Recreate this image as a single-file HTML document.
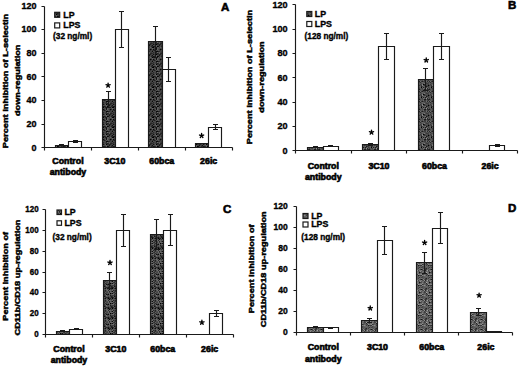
<!DOCTYPE html>
<html><head><meta charset="utf-8"><style>
html,body{margin:0;padding:0;background:#fff;}
body{width:520px;height:367px;overflow:hidden;}
svg{display:block;}
.t{font-family:"Liberation Sans", sans-serif;font-weight:bold;font-size:8.3px;fill:#000;stroke:#000;stroke-width:0.6px;}
.L{font-size:11.5px;}
.Y{font-size:7.8px;stroke-width:0.45px;}
.N{stroke-width:0.35px;}
.G{stroke-width:0.35px;}
.S{font-size:13.5px;stroke-width:0.3px;}
</style></head><body>
<svg width="520" height="367" viewBox="0 0 520 367">
<defs><pattern id="pA" patternUnits="userSpaceOnUse" width="10" height="10"><rect x="0" y="0" width="1" height="1" fill="#323232"/><rect x="1" y="0" width="1" height="1" fill="#484848"/><rect x="2" y="0" width="1" height="1" fill="#333333"/><rect x="3" y="0" width="1" height="1" fill="#313131"/><rect x="4" y="0" width="1" height="1" fill="#1f1f1f"/><rect x="5" y="0" width="1" height="1" fill="#343434"/><rect x="6" y="0" width="1" height="1" fill="#595959"/><rect x="7" y="0" width="1" height="1" fill="#454545"/><rect x="8" y="0" width="1" height="1" fill="#575757"/><rect x="9" y="0" width="1" height="1" fill="#404040"/><rect x="0" y="1" width="1" height="1" fill="#454545"/><rect x="1" y="1" width="1" height="1" fill="#3f3f3f"/><rect x="2" y="1" width="1" height="1" fill="#0b0b0b"/><rect x="3" y="1" width="1" height="1" fill="#515151"/><rect x="4" y="1" width="1" height="1" fill="#484848"/><rect x="5" y="1" width="1" height="1" fill="#474747"/><rect x="6" y="1" width="1" height="1" fill="#0a0a0a"/><rect x="7" y="1" width="1" height="1" fill="#090909"/><rect x="8" y="1" width="1" height="1" fill="#212121"/><rect x="9" y="1" width="1" height="1" fill="#2c2c2c"/><rect x="0" y="2" width="1" height="1" fill="#424242"/><rect x="1" y="2" width="1" height="1" fill="#383838"/><rect x="2" y="2" width="1" height="1" fill="#484848"/><rect x="3" y="2" width="1" height="1" fill="#282828"/><rect x="4" y="2" width="1" height="1" fill="#424242"/><rect x="5" y="2" width="1" height="1" fill="#454545"/><rect x="6" y="2" width="1" height="1" fill="#272727"/><rect x="7" y="2" width="1" height="1" fill="#6a6a6a"/><rect x="8" y="2" width="1" height="1" fill="#494949"/><rect x="9" y="2" width="1" height="1" fill="#5b5b5b"/><rect x="0" y="3" width="1" height="1" fill="#282828"/><rect x="1" y="3" width="1" height="1" fill="#252525"/><rect x="2" y="3" width="1" height="1" fill="#303030"/><rect x="3" y="3" width="1" height="1" fill="#373737"/><rect x="4" y="3" width="1" height="1" fill="#4b4b4b"/><rect x="5" y="3" width="1" height="1" fill="#404040"/><rect x="6" y="3" width="1" height="1" fill="#2d2d2d"/><rect x="7" y="3" width="1" height="1" fill="#1f1f1f"/><rect x="8" y="3" width="1" height="1" fill="#2b2b2b"/><rect x="9" y="3" width="1" height="1" fill="#5c5c5c"/><rect x="0" y="4" width="1" height="1" fill="#232323"/><rect x="1" y="4" width="1" height="1" fill="#404040"/><rect x="2" y="4" width="1" height="1" fill="#454545"/><rect x="3" y="4" width="1" height="1" fill="#101010"/><rect x="4" y="4" width="1" height="1" fill="#3b3b3b"/><rect x="5" y="4" width="1" height="1" fill="#5e5e5e"/><rect x="6" y="4" width="1" height="1" fill="#010101"/><rect x="7" y="4" width="1" height="1" fill="#303030"/><rect x="8" y="4" width="1" height="1" fill="#373737"/><rect x="9" y="4" width="1" height="1" fill="#232323"/><rect x="0" y="5" width="1" height="1" fill="#474747"/><rect x="1" y="5" width="1" height="1" fill="#383838"/><rect x="2" y="5" width="1" height="1" fill="#101010"/><rect x="3" y="5" width="1" height="1" fill="#515151"/><rect x="4" y="5" width="1" height="1" fill="#4c4c4c"/><rect x="5" y="5" width="1" height="1" fill="#545454"/><rect x="6" y="5" width="1" height="1" fill="#626262"/><rect x="7" y="5" width="1" height="1" fill="#444444"/><rect x="8" y="5" width="1" height="1" fill="#3d3d3d"/><rect x="9" y="5" width="1" height="1" fill="#151515"/><rect x="0" y="6" width="1" height="1" fill="#4b4b4b"/><rect x="1" y="6" width="1" height="1" fill="#282828"/><rect x="2" y="6" width="1" height="1" fill="#2d2d2d"/><rect x="3" y="6" width="1" height="1" fill="#161616"/><rect x="4" y="6" width="1" height="1" fill="#1e1e1e"/><rect x="5" y="6" width="1" height="1" fill="#2b2b2b"/><rect x="6" y="6" width="1" height="1" fill="#5e5e5e"/><rect x="7" y="6" width="1" height="1" fill="#010101"/><rect x="8" y="6" width="1" height="1" fill="#111111"/><rect x="9" y="6" width="1" height="1" fill="#404040"/><rect x="0" y="7" width="1" height="1" fill="#626262"/><rect x="1" y="7" width="1" height="1" fill="#4a4a4a"/><rect x="2" y="7" width="1" height="1" fill="#040404"/><rect x="3" y="7" width="1" height="1" fill="#000000"/><rect x="4" y="7" width="1" height="1" fill="#444444"/><rect x="5" y="7" width="1" height="1" fill="#252525"/><rect x="6" y="7" width="1" height="1" fill="#1a1a1a"/><rect x="7" y="7" width="1" height="1" fill="#555555"/><rect x="8" y="7" width="1" height="1" fill="#585858"/><rect x="9" y="7" width="1" height="1" fill="#3e3e3e"/><rect x="0" y="8" width="1" height="1" fill="#404040"/><rect x="1" y="8" width="1" height="1" fill="#464646"/><rect x="2" y="8" width="1" height="1" fill="#666666"/><rect x="3" y="8" width="1" height="1" fill="#4b4b4b"/><rect x="4" y="8" width="1" height="1" fill="#484848"/><rect x="5" y="8" width="1" height="1" fill="#494949"/><rect x="6" y="8" width="1" height="1" fill="#0e0e0e"/><rect x="7" y="8" width="1" height="1" fill="#5d5d5d"/><rect x="8" y="8" width="1" height="1" fill="#545454"/><rect x="9" y="8" width="1" height="1" fill="#484848"/><rect x="0" y="9" width="1" height="1" fill="#020202"/><rect x="1" y="9" width="1" height="1" fill="#282828"/><rect x="2" y="9" width="1" height="1" fill="#515151"/><rect x="3" y="9" width="1" height="1" fill="#070707"/><rect x="4" y="9" width="1" height="1" fill="#343434"/><rect x="5" y="9" width="1" height="1" fill="#565656"/><rect x="6" y="9" width="1" height="1" fill="#151515"/><rect x="7" y="9" width="1" height="1" fill="#676767"/><rect x="8" y="9" width="1" height="1" fill="#494949"/><rect x="9" y="9" width="1" height="1" fill="#353535"/></pattern><pattern id="pB" patternUnits="userSpaceOnUse" width="10" height="10"><rect x="0" y="0" width="1" height="1" fill="#4f4f4f"/><rect x="1" y="0" width="1" height="1" fill="#585858"/><rect x="2" y="0" width="1" height="1" fill="#494949"/><rect x="3" y="0" width="1" height="1" fill="#666666"/><rect x="4" y="0" width="1" height="1" fill="#333333"/><rect x="5" y="0" width="1" height="1" fill="#3a3a3a"/><rect x="6" y="0" width="1" height="1" fill="#636363"/><rect x="7" y="0" width="1" height="1" fill="#464646"/><rect x="8" y="0" width="1" height="1" fill="#2d2d2d"/><rect x="9" y="0" width="1" height="1" fill="#606060"/><rect x="0" y="1" width="1" height="1" fill="#6f6f6f"/><rect x="1" y="1" width="1" height="1" fill="#393939"/><rect x="2" y="1" width="1" height="1" fill="#1f1f1f"/><rect x="3" y="1" width="1" height="1" fill="#424242"/><rect x="4" y="1" width="1" height="1" fill="#414141"/><rect x="5" y="1" width="1" height="1" fill="#3d3d3d"/><rect x="6" y="1" width="1" height="1" fill="#6d6d6d"/><rect x="7" y="1" width="1" height="1" fill="#292929"/><rect x="8" y="1" width="1" height="1" fill="#696969"/><rect x="9" y="1" width="1" height="1" fill="#222222"/><rect x="0" y="2" width="1" height="1" fill="#2f2f2f"/><rect x="1" y="2" width="1" height="1" fill="#575757"/><rect x="2" y="2" width="1" height="1" fill="#656565"/><rect x="3" y="2" width="1" height="1" fill="#5e5e5e"/><rect x="4" y="2" width="1" height="1" fill="#4f4f4f"/><rect x="5" y="2" width="1" height="1" fill="#494949"/><rect x="6" y="2" width="1" height="1" fill="#4a4a4a"/><rect x="7" y="2" width="1" height="1" fill="#565656"/><rect x="8" y="2" width="1" height="1" fill="#414141"/><rect x="9" y="2" width="1" height="1" fill="#4d4d4d"/><rect x="0" y="3" width="1" height="1" fill="#565656"/><rect x="1" y="3" width="1" height="1" fill="#464646"/><rect x="2" y="3" width="1" height="1" fill="#5b5b5b"/><rect x="3" y="3" width="1" height="1" fill="#555555"/><rect x="4" y="3" width="1" height="1" fill="#7e7e7e"/><rect x="5" y="3" width="1" height="1" fill="#4f4f4f"/><rect x="6" y="3" width="1" height="1" fill="#3a3a3a"/><rect x="7" y="3" width="1" height="1" fill="#3b3b3b"/><rect x="8" y="3" width="1" height="1" fill="#454545"/><rect x="9" y="3" width="1" height="1" fill="#5f5f5f"/><rect x="0" y="4" width="1" height="1" fill="#3c3c3c"/><rect x="1" y="4" width="1" height="1" fill="#505050"/><rect x="2" y="4" width="1" height="1" fill="#797979"/><rect x="3" y="4" width="1" height="1" fill="#000000"/><rect x="4" y="4" width="1" height="1" fill="#262626"/><rect x="5" y="4" width="1" height="1" fill="#4c4c4c"/><rect x="6" y="4" width="1" height="1" fill="#515151"/><rect x="7" y="4" width="1" height="1" fill="#4c4c4c"/><rect x="8" y="4" width="1" height="1" fill="#393939"/><rect x="9" y="4" width="1" height="1" fill="#585858"/><rect x="0" y="5" width="1" height="1" fill="#4d4d4d"/><rect x="1" y="5" width="1" height="1" fill="#373737"/><rect x="2" y="5" width="1" height="1" fill="#8a8a8a"/><rect x="3" y="5" width="1" height="1" fill="#4f4f4f"/><rect x="4" y="5" width="1" height="1" fill="#363636"/><rect x="5" y="5" width="1" height="1" fill="#434343"/><rect x="6" y="5" width="1" height="1" fill="#3f3f3f"/><rect x="7" y="5" width="1" height="1" fill="#444444"/><rect x="8" y="5" width="1" height="1" fill="#000000"/><rect x="9" y="5" width="1" height="1" fill="#383838"/><rect x="0" y="6" width="1" height="1" fill="#626262"/><rect x="1" y="6" width="1" height="1" fill="#252525"/><rect x="2" y="6" width="1" height="1" fill="#444444"/><rect x="3" y="6" width="1" height="1" fill="#606060"/><rect x="4" y="6" width="1" height="1" fill="#5d5d5d"/><rect x="5" y="6" width="1" height="1" fill="#6f6f6f"/><rect x="6" y="6" width="1" height="1" fill="#161616"/><rect x="7" y="6" width="1" height="1" fill="#3c3c3c"/><rect x="8" y="6" width="1" height="1" fill="#3c3c3c"/><rect x="9" y="6" width="1" height="1" fill="#575757"/><rect x="0" y="7" width="1" height="1" fill="#646464"/><rect x="1" y="7" width="1" height="1" fill="#000000"/><rect x="2" y="7" width="1" height="1" fill="#646464"/><rect x="3" y="7" width="1" height="1" fill="#1d1d1d"/><rect x="4" y="7" width="1" height="1" fill="#595959"/><rect x="5" y="7" width="1" height="1" fill="#1c1c1c"/><rect x="6" y="7" width="1" height="1" fill="#4a4a4a"/><rect x="7" y="7" width="1" height="1" fill="#676767"/><rect x="8" y="7" width="1" height="1" fill="#414141"/><rect x="9" y="7" width="1" height="1" fill="#4b4b4b"/><rect x="0" y="8" width="1" height="1" fill="#5c5c5c"/><rect x="1" y="8" width="1" height="1" fill="#494949"/><rect x="2" y="8" width="1" height="1" fill="#434343"/><rect x="3" y="8" width="1" height="1" fill="#707070"/><rect x="4" y="8" width="1" height="1" fill="#636363"/><rect x="5" y="8" width="1" height="1" fill="#3d3d3d"/><rect x="6" y="8" width="1" height="1" fill="#929292"/><rect x="7" y="8" width="1" height="1" fill="#252525"/><rect x="8" y="8" width="1" height="1" fill="#5f5f5f"/><rect x="9" y="8" width="1" height="1" fill="#3e3e3e"/><rect x="0" y="9" width="1" height="1" fill="#494949"/><rect x="1" y="9" width="1" height="1" fill="#595959"/><rect x="2" y="9" width="1" height="1" fill="#4c4c4c"/><rect x="3" y="9" width="1" height="1" fill="#575757"/><rect x="4" y="9" width="1" height="1" fill="#1b1b1b"/><rect x="5" y="9" width="1" height="1" fill="#1b1b1b"/><rect x="6" y="9" width="1" height="1" fill="#575757"/><rect x="7" y="9" width="1" height="1" fill="#2b2b2b"/><rect x="8" y="9" width="1" height="1" fill="#292929"/><rect x="9" y="9" width="1" height="1" fill="#1c1c1c"/></pattern><pattern id="pC" patternUnits="userSpaceOnUse" width="10" height="10"><rect x="0" y="0" width="1" height="1" fill="#666666"/><rect x="1" y="0" width="1" height="1" fill="#575757"/><rect x="2" y="0" width="1" height="1" fill="#6c6c6c"/><rect x="3" y="0" width="1" height="1" fill="#282828"/><rect x="4" y="0" width="1" height="1" fill="#434343"/><rect x="5" y="0" width="1" height="1" fill="#232323"/><rect x="6" y="0" width="1" height="1" fill="#585858"/><rect x="7" y="0" width="1" height="1" fill="#6f6f6f"/><rect x="8" y="0" width="1" height="1" fill="#2a2a2a"/><rect x="9" y="0" width="1" height="1" fill="#6e6e6e"/><rect x="0" y="1" width="1" height="1" fill="#5e5e5e"/><rect x="1" y="1" width="1" height="1" fill="#3e3e3e"/><rect x="2" y="1" width="1" height="1" fill="#0b0b0b"/><rect x="3" y="1" width="1" height="1" fill="#6a6a6a"/><rect x="4" y="1" width="1" height="1" fill="#404040"/><rect x="5" y="1" width="1" height="1" fill="#323232"/><rect x="6" y="1" width="1" height="1" fill="#4e4e4e"/><rect x="7" y="1" width="1" height="1" fill="#4e4e4e"/><rect x="8" y="1" width="1" height="1" fill="#6c6c6c"/><rect x="9" y="1" width="1" height="1" fill="#262626"/><rect x="0" y="2" width="1" height="1" fill="#626262"/><rect x="1" y="2" width="1" height="1" fill="#6c6c6c"/><rect x="2" y="2" width="1" height="1" fill="#6b6b6b"/><rect x="3" y="2" width="1" height="1" fill="#3d3d3d"/><rect x="4" y="2" width="1" height="1" fill="#2e2e2e"/><rect x="5" y="2" width="1" height="1" fill="#5f5f5f"/><rect x="6" y="2" width="1" height="1" fill="#464646"/><rect x="7" y="2" width="1" height="1" fill="#464646"/><rect x="8" y="2" width="1" height="1" fill="#6a6a6a"/><rect x="9" y="2" width="1" height="1" fill="#3b3b3b"/><rect x="0" y="3" width="1" height="1" fill="#020202"/><rect x="1" y="3" width="1" height="1" fill="#383838"/><rect x="2" y="3" width="1" height="1" fill="#0f0f0f"/><rect x="3" y="3" width="1" height="1" fill="#595959"/><rect x="4" y="3" width="1" height="1" fill="#4b4b4b"/><rect x="5" y="3" width="1" height="1" fill="#313131"/><rect x="6" y="3" width="1" height="1" fill="#424242"/><rect x="7" y="3" width="1" height="1" fill="#5a5a5a"/><rect x="8" y="3" width="1" height="1" fill="#454545"/><rect x="9" y="3" width="1" height="1" fill="#686868"/><rect x="0" y="4" width="1" height="1" fill="#414141"/><rect x="1" y="4" width="1" height="1" fill="#606060"/><rect x="2" y="4" width="1" height="1" fill="#6c6c6c"/><rect x="3" y="4" width="1" height="1" fill="#707070"/><rect x="4" y="4" width="1" height="1" fill="#303030"/><rect x="5" y="4" width="1" height="1" fill="#5b5b5b"/><rect x="6" y="4" width="1" height="1" fill="#0e0e0e"/><rect x="7" y="4" width="1" height="1" fill="#242424"/><rect x="8" y="4" width="1" height="1" fill="#0c0c0c"/><rect x="9" y="4" width="1" height="1" fill="#606060"/><rect x="0" y="5" width="1" height="1" fill="#202020"/><rect x="1" y="5" width="1" height="1" fill="#424242"/><rect x="2" y="5" width="1" height="1" fill="#3d3d3d"/><rect x="3" y="5" width="1" height="1" fill="#424242"/><rect x="4" y="5" width="1" height="1" fill="#323232"/><rect x="5" y="5" width="1" height="1" fill="#494949"/><rect x="6" y="5" width="1" height="1" fill="#757575"/><rect x="7" y="5" width="1" height="1" fill="#444444"/><rect x="8" y="5" width="1" height="1" fill="#515151"/><rect x="9" y="5" width="1" height="1" fill="#5f5f5f"/><rect x="0" y="6" width="1" height="1" fill="#3d3d3d"/><rect x="1" y="6" width="1" height="1" fill="#1f1f1f"/><rect x="2" y="6" width="1" height="1" fill="#333333"/><rect x="3" y="6" width="1" height="1" fill="#616161"/><rect x="4" y="6" width="1" height="1" fill="#141414"/><rect x="5" y="6" width="1" height="1" fill="#323232"/><rect x="6" y="6" width="1" height="1" fill="#5f5f5f"/><rect x="7" y="6" width="1" height="1" fill="#595959"/><rect x="8" y="6" width="1" height="1" fill="#434343"/><rect x="9" y="6" width="1" height="1" fill="#595959"/><rect x="0" y="7" width="1" height="1" fill="#474747"/><rect x="1" y="7" width="1" height="1" fill="#212121"/><rect x="2" y="7" width="1" height="1" fill="#171717"/><rect x="3" y="7" width="1" height="1" fill="#313131"/><rect x="4" y="7" width="1" height="1" fill="#5c5c5c"/><rect x="5" y="7" width="1" height="1" fill="#333333"/><rect x="6" y="7" width="1" height="1" fill="#292929"/><rect x="7" y="7" width="1" height="1" fill="#2d2d2d"/><rect x="8" y="7" width="1" height="1" fill="#181818"/><rect x="9" y="7" width="1" height="1" fill="#3f3f3f"/><rect x="0" y="8" width="1" height="1" fill="#212121"/><rect x="1" y="8" width="1" height="1" fill="#4d4d4d"/><rect x="2" y="8" width="1" height="1" fill="#000000"/><rect x="3" y="8" width="1" height="1" fill="#4c4c4c"/><rect x="4" y="8" width="1" height="1" fill="#313131"/><rect x="5" y="8" width="1" height="1" fill="#0c0c0c"/><rect x="6" y="8" width="1" height="1" fill="#575757"/><rect x="7" y="8" width="1" height="1" fill="#3b3b3b"/><rect x="8" y="8" width="1" height="1" fill="#040404"/><rect x="9" y="8" width="1" height="1" fill="#2a2a2a"/><rect x="0" y="9" width="1" height="1" fill="#4b4b4b"/><rect x="1" y="9" width="1" height="1" fill="#363636"/><rect x="2" y="9" width="1" height="1" fill="#585858"/><rect x="3" y="9" width="1" height="1" fill="#575757"/><rect x="4" y="9" width="1" height="1" fill="#555555"/><rect x="5" y="9" width="1" height="1" fill="#4c4c4c"/><rect x="6" y="9" width="1" height="1" fill="#686868"/><rect x="7" y="9" width="1" height="1" fill="#555555"/><rect x="8" y="9" width="1" height="1" fill="#4f4f4f"/><rect x="9" y="9" width="1" height="1" fill="#080808"/></pattern><pattern id="pD" patternUnits="userSpaceOnUse" width="10" height="10"><rect x="0" y="0" width="1" height="1" fill="#737373"/><rect x="1" y="0" width="1" height="1" fill="#7e7e7e"/><rect x="2" y="0" width="1" height="1" fill="#515151"/><rect x="3" y="0" width="1" height="1" fill="#4c4c4c"/><rect x="4" y="0" width="1" height="1" fill="#909090"/><rect x="5" y="0" width="1" height="1" fill="#282828"/><rect x="6" y="0" width="1" height="1" fill="#676767"/><rect x="7" y="0" width="1" height="1" fill="#9d9d9d"/><rect x="8" y="0" width="1" height="1" fill="#404040"/><rect x="9" y="0" width="1" height="1" fill="#6d6d6d"/><rect x="0" y="1" width="1" height="1" fill="#8e8e8e"/><rect x="1" y="1" width="1" height="1" fill="#565656"/><rect x="2" y="1" width="1" height="1" fill="#696969"/><rect x="3" y="1" width="1" height="1" fill="#737373"/><rect x="4" y="1" width="1" height="1" fill="#404040"/><rect x="5" y="1" width="1" height="1" fill="#575757"/><rect x="6" y="1" width="1" height="1" fill="#626262"/><rect x="7" y="1" width="1" height="1" fill="#717171"/><rect x="8" y="1" width="1" height="1" fill="#595959"/><rect x="9" y="1" width="1" height="1" fill="#545454"/><rect x="0" y="2" width="1" height="1" fill="#3d3d3d"/><rect x="1" y="2" width="1" height="1" fill="#4f4f4f"/><rect x="2" y="2" width="1" height="1" fill="#727272"/><rect x="3" y="2" width="1" height="1" fill="#5c5c5c"/><rect x="4" y="2" width="1" height="1" fill="#424242"/><rect x="5" y="2" width="1" height="1" fill="#424242"/><rect x="6" y="2" width="1" height="1" fill="#a4a4a4"/><rect x="7" y="2" width="1" height="1" fill="#797979"/><rect x="8" y="2" width="1" height="1" fill="#6b6b6b"/><rect x="9" y="2" width="1" height="1" fill="#111111"/><rect x="0" y="3" width="1" height="1" fill="#6b6b6b"/><rect x="1" y="3" width="1" height="1" fill="#676767"/><rect x="2" y="3" width="1" height="1" fill="#898989"/><rect x="3" y="3" width="1" height="1" fill="#656565"/><rect x="4" y="3" width="1" height="1" fill="#585858"/><rect x="5" y="3" width="1" height="1" fill="#686868"/><rect x="6" y="3" width="1" height="1" fill="#232323"/><rect x="7" y="3" width="1" height="1" fill="#767676"/><rect x="8" y="3" width="1" height="1" fill="#636363"/><rect x="9" y="3" width="1" height="1" fill="#464646"/><rect x="0" y="4" width="1" height="1" fill="#7f7f7f"/><rect x="1" y="4" width="1" height="1" fill="#8c8c8c"/><rect x="2" y="4" width="1" height="1" fill="#323232"/><rect x="3" y="4" width="1" height="1" fill="#474747"/><rect x="4" y="4" width="1" height="1" fill="#626262"/><rect x="5" y="4" width="1" height="1" fill="#5f5f5f"/><rect x="6" y="4" width="1" height="1" fill="#4e4e4e"/><rect x="7" y="4" width="1" height="1" fill="#3e3e3e"/><rect x="8" y="4" width="1" height="1" fill="#959595"/><rect x="9" y="4" width="1" height="1" fill="#777777"/><rect x="0" y="5" width="1" height="1" fill="#383838"/><rect x="1" y="5" width="1" height="1" fill="#343434"/><rect x="2" y="5" width="1" height="1" fill="#898989"/><rect x="3" y="5" width="1" height="1" fill="#757575"/><rect x="4" y="5" width="1" height="1" fill="#8c8c8c"/><rect x="5" y="5" width="1" height="1" fill="#707070"/><rect x="6" y="5" width="1" height="1" fill="#414141"/><rect x="7" y="5" width="1" height="1" fill="#616161"/><rect x="8" y="5" width="1" height="1" fill="#1d1d1d"/><rect x="9" y="5" width="1" height="1" fill="#454545"/><rect x="0" y="6" width="1" height="1" fill="#585858"/><rect x="1" y="6" width="1" height="1" fill="#686868"/><rect x="2" y="6" width="1" height="1" fill="#454545"/><rect x="3" y="6" width="1" height="1" fill="#565656"/><rect x="4" y="6" width="1" height="1" fill="#666666"/><rect x="5" y="6" width="1" height="1" fill="#646464"/><rect x="6" y="6" width="1" height="1" fill="#6b6b6b"/><rect x="7" y="6" width="1" height="1" fill="#5f5f5f"/><rect x="8" y="6" width="1" height="1" fill="#505050"/><rect x="9" y="6" width="1" height="1" fill="#707070"/><rect x="0" y="7" width="1" height="1" fill="#5b5b5b"/><rect x="1" y="7" width="1" height="1" fill="#424242"/><rect x="2" y="7" width="1" height="1" fill="#484848"/><rect x="3" y="7" width="1" height="1" fill="#595959"/><rect x="4" y="7" width="1" height="1" fill="#565656"/><rect x="5" y="7" width="1" height="1" fill="#5e5e5e"/><rect x="6" y="7" width="1" height="1" fill="#595959"/><rect x="7" y="7" width="1" height="1" fill="#5e5e5e"/><rect x="8" y="7" width="1" height="1" fill="#565656"/><rect x="9" y="7" width="1" height="1" fill="#363636"/><rect x="0" y="8" width="1" height="1" fill="#656565"/><rect x="1" y="8" width="1" height="1" fill="#777777"/><rect x="2" y="8" width="1" height="1" fill="#666666"/><rect x="3" y="8" width="1" height="1" fill="#545454"/><rect x="4" y="8" width="1" height="1" fill="#666666"/><rect x="5" y="8" width="1" height="1" fill="#3e3e3e"/><rect x="6" y="8" width="1" height="1" fill="#242424"/><rect x="7" y="8" width="1" height="1" fill="#5b5b5b"/><rect x="8" y="8" width="1" height="1" fill="#3f3f3f"/><rect x="9" y="8" width="1" height="1" fill="#6e6e6e"/><rect x="0" y="9" width="1" height="1" fill="#3b3b3b"/><rect x="1" y="9" width="1" height="1" fill="#101010"/><rect x="2" y="9" width="1" height="1" fill="#3c3c3c"/><rect x="3" y="9" width="1" height="1" fill="#868686"/><rect x="4" y="9" width="1" height="1" fill="#4f4f4f"/><rect x="5" y="9" width="1" height="1" fill="#333333"/><rect x="6" y="9" width="1" height="1" fill="#444444"/><rect x="7" y="9" width="1" height="1" fill="#686868"/><rect x="8" y="9" width="1" height="1" fill="#676767"/><rect x="9" y="9" width="1" height="1" fill="#5e5e5e"/></pattern></defs>
<rect width="520" height="367" fill="#fff"/>
<path d="M55.5 147.5V145.5H68.5V147.5Z" fill="url(#pA)" stroke="#1a1a1a" stroke-width="1.15"/>
<path d="M68.5 147.5V141.5H81.5V147.5" fill="#fff" stroke="#1a1a1a" stroke-width="1.15"/>
<rect x="59.0" y="144.0" width="5" height="2.0" fill="#1a1a1a"/>
<path d="M75.5 140.5V142.5M73.0 140.5H78.0M73.0 142.5H78.0" fill="none" stroke="#1a1a1a" stroke-width="1.15"/>
<path d="M102.5 147.5V99.5H115.5V147.5Z" fill="url(#pA)" stroke="#1a1a1a" stroke-width="1.15"/>
<path d="M115.5 147.5V29.5H128.5V147.5" fill="#fff" stroke="#1a1a1a" stroke-width="1.15"/>
<path d="M108.5 91.5V107.5M106.0 91.5H111.0M106.0 107.5H111.0" fill="none" stroke="#1a1a1a" stroke-width="1.15"/>
<path d="M121.5 11.5V47.5M119.0 11.5H124.0M119.0 47.5H124.0" fill="none" stroke="#1a1a1a" stroke-width="1.15"/>
<path d="M148.5 147.5V41.5H162.5V147.5Z" fill="url(#pA)" stroke="#1a1a1a" stroke-width="1.15"/>
<path d="M162.5 147.5V69.5H175.5V147.5" fill="#fff" stroke="#1a1a1a" stroke-width="1.15"/>
<path d="M155.5 26.5V57.5M153.0 26.5H158.0M153.0 57.5H158.0" fill="none" stroke="#1a1a1a" stroke-width="1.15"/>
<path d="M168.5 57.5V81.5M166.0 57.5H171.0M166.0 81.5H171.0" fill="none" stroke="#1a1a1a" stroke-width="1.15"/>
<path d="M195.5 147.5V143.5H208.5V147.5Z" fill="url(#pA)" stroke="#1a1a1a" stroke-width="1.15"/>
<path d="M208.5 147.5V127.5H221.5V147.5" fill="#fff" stroke="#1a1a1a" stroke-width="1.15"/>
<path d="M215.5 124.5V129.5M213.0 124.5H218.0M213.0 129.5H218.0" fill="none" stroke="#1a1a1a" stroke-width="1.15"/>
<text transform="translate(36.60,150.52) scale(1.000,1)" text-anchor="end" class="t N" style="font-size:9.0px">0</text>
<text transform="translate(36.60,126.89) scale(1.000,1)" text-anchor="end" class="t N" style="font-size:9.0px">20</text>
<text transform="translate(36.60,103.26) scale(1.000,1)" text-anchor="end" class="t N" style="font-size:9.0px">40</text>
<text transform="translate(36.60,79.62) scale(1.000,1)" text-anchor="end" class="t N" style="font-size:9.0px">60</text>
<text transform="translate(36.60,55.99) scale(1.000,1)" text-anchor="end" class="t N" style="font-size:9.0px">80</text>
<text transform="translate(36.60,32.36) scale(1.000,1)" text-anchor="end" class="t N" style="font-size:9.0px">100</text>
<text transform="translate(36.60,8.72) scale(1.000,1)" text-anchor="end" class="t N" style="font-size:9.0px">120</text>
<path d="M44.5 6.5V150.5M41.5 147.5H232.5M41.5 147.5H44.5M41.5 124.5H44.5M41.5 100.5H44.5M41.5 76.5H44.5M41.5 53.5H44.5M41.5 29.5H44.5M41.5 6.5H44.5M91.5 147.5V150.5M138.5 147.5V150.5M185.5 147.5V150.5M232.5 147.5V150.5" fill="none" stroke="#1a1a1a" stroke-width="1.15"/>
<text transform="translate(67.95,163.50) scale(1.060,1)" text-anchor="middle" class="t">Control</text>
<text transform="translate(114.85,163.50) scale(1.060,1)" text-anchor="middle" class="t">3C10</text>
<text transform="translate(161.75,163.50) scale(1.060,1)" text-anchor="middle" class="t">60bca</text>
<text transform="translate(208.65,163.50) scale(1.060,1)" text-anchor="middle" class="t">26ic</text>
<text transform="translate(67.95,174.90) scale(1.060,1)" text-anchor="middle" class="t">antibody</text>
<text x="225.20" y="11.00" text-anchor="middle" class="t L">A</text>
<text transform="translate(8.30,81.00) rotate(-90) scale(1.180,1)" text-anchor="middle" class="t Y">Percent inhibition of L-selectin</text>
<text transform="translate(20.40,80.30) rotate(-90) scale(1.180,1)" text-anchor="middle" class="t Y">down-regulation</text>
<rect x="54.70" y="12.30" width="5.00" height="5.00" fill="url(#pA)" stroke="#1a1a1a" stroke-width="1.2"/>
<rect x="54.70" y="22.90" width="5.00" height="5.00" fill="#fff" stroke="#1a1a1a" stroke-width="1.2"/>
<text transform="translate(63.30,17.50) scale(1.060,1)" class="t G">LP</text>
<text transform="translate(63.30,28.10) scale(1.060,1)" class="t G">LPS</text>
<text transform="translate(53.00,38.50) scale(1.000,1)" class="t G">(32 ng/ml)</text>
<path d="M108.10 85.31L108.10 83.11M108.10 85.31L110.19 84.63M108.10 85.31L109.39 87.09M108.10 85.31L106.81 87.09M108.10 85.31L106.01 84.63" stroke="#000" stroke-width="1.35" stroke-linecap="round" fill="none"/>
<path d="M201.60 135.71L201.60 133.51M201.60 135.71L203.69 135.03M201.60 135.71L202.89 137.49M201.60 135.71L200.31 137.49M201.60 135.71L199.51 135.03" stroke="#000" stroke-width="1.35" stroke-linecap="round" fill="none"/>
<path d="M307.5 150.5V147.5H323.5V150.5Z" fill="url(#pB)" stroke="#1a1a1a" stroke-width="1.15"/>
<path d="M323.5 150.5V146.5H338.5V150.5" fill="#fff" stroke="#1a1a1a" stroke-width="1.15"/>
<rect x="313.0" y="146.0" width="5" height="2.0" fill="#1a1a1a"/>
<rect x="328.0" y="145.0" width="5" height="2.0" fill="#1a1a1a"/>
<path d="M362.5 150.5V144.5H378.5V150.5Z" fill="url(#pB)" stroke="#1a1a1a" stroke-width="1.15"/>
<path d="M378.5 150.5V46.5H394.5V150.5" fill="#fff" stroke="#1a1a1a" stroke-width="1.15"/>
<path d="M370.5 143.5V145.5M368.0 143.5H373.0M368.0 145.5H373.0" fill="none" stroke="#1a1a1a" stroke-width="1.15"/>
<path d="M386.5 33.5V59.5M384.0 33.5H389.0M384.0 59.5H389.0" fill="none" stroke="#1a1a1a" stroke-width="1.15"/>
<path d="M418.5 150.5V79.5H433.5V150.5Z" fill="url(#pB)" stroke="#1a1a1a" stroke-width="1.15"/>
<path d="M433.5 150.5V46.5H449.5V150.5" fill="#fff" stroke="#1a1a1a" stroke-width="1.15"/>
<path d="M425.5 68.5V90.5M423.0 68.5H428.0M423.0 90.5H428.0" fill="none" stroke="#1a1a1a" stroke-width="1.15"/>
<path d="M441.5 33.5V59.5M439.0 33.5H444.0M439.0 59.5H444.0" fill="none" stroke="#1a1a1a" stroke-width="1.15"/>
<path d="M489.5 150.5V145.5H504.5V150.5" fill="#fff" stroke="#1a1a1a" stroke-width="1.15"/>
<path d="M497.5 144.5V146.5M495.0 144.5H500.0M495.0 146.5H500.0" fill="none" stroke="#1a1a1a" stroke-width="1.15"/>
<text transform="translate(287.60,153.56) scale(1.000,1)" text-anchor="end" class="t N" style="font-size:9.1px">0</text>
<text transform="translate(287.60,129.22) scale(1.000,1)" text-anchor="end" class="t N" style="font-size:9.1px">20</text>
<text transform="translate(287.60,104.89) scale(1.000,1)" text-anchor="end" class="t N" style="font-size:9.1px">40</text>
<text transform="translate(287.60,80.56) scale(1.000,1)" text-anchor="end" class="t N" style="font-size:9.1px">60</text>
<text transform="translate(287.60,56.22) scale(1.000,1)" text-anchor="end" class="t N" style="font-size:9.1px">80</text>
<text transform="translate(287.60,31.89) scale(1.000,1)" text-anchor="end" class="t N" style="font-size:9.1px">100</text>
<text transform="translate(287.60,7.56) scale(1.000,1)" text-anchor="end" class="t N" style="font-size:9.1px">120</text>
<path d="M295.5 4.5V153.5M292.5 150.5H517.5M292.5 150.5H295.5M292.5 126.5H295.5M292.5 102.5H295.5M292.5 77.5H295.5M292.5 53.5H295.5M292.5 29.5H295.5M292.5 4.5H295.5M351.5 150.5V153.5M406.5 150.5V153.5M462.5 150.5V153.5M517.5 150.5V153.5" fill="none" stroke="#1a1a1a" stroke-width="1.15"/>
<text transform="translate(323.30,168.50) scale(1.060,1)" text-anchor="middle" class="t">Control</text>
<text transform="translate(378.90,168.50) scale(1.060,1)" text-anchor="middle" class="t">3C10</text>
<text transform="translate(434.50,168.50) scale(1.060,1)" text-anchor="middle" class="t">60bca</text>
<text transform="translate(490.10,168.50) scale(1.060,1)" text-anchor="middle" class="t">26ic</text>
<text transform="translate(323.30,179.90) scale(1.060,1)" text-anchor="middle" class="t">antibody</text>
<text x="512.10" y="9.20" text-anchor="middle" class="t L">B</text>
<text transform="translate(252.30,77.00) rotate(-90) scale(1.180,1)" text-anchor="middle" class="t Y">Percent inhibition of L-selectin</text>
<text transform="translate(264.00,77.00) rotate(-90) scale(1.180,1)" text-anchor="middle" class="t Y">down-regulation</text>
<rect x="306.80" y="11.50" width="5.00" height="5.00" fill="url(#pB)" stroke="#1a1a1a" stroke-width="1.2"/>
<rect x="306.80" y="21.50" width="5.00" height="5.00" fill="#fff" stroke="#1a1a1a" stroke-width="1.2"/>
<text transform="translate(314.80,16.70) scale(1.060,1)" class="t G">LP</text>
<text transform="translate(314.80,26.70) scale(1.060,1)" class="t G">LPS</text>
<text transform="translate(304.50,38.80) scale(1.000,1)" class="t G">(128 ng/ml)</text>
<path d="M371.50 132.31L371.50 130.11M371.50 132.31L373.59 131.63M371.50 132.31L372.79 134.09M371.50 132.31L370.21 134.09M371.50 132.31L369.41 131.63" stroke="#000" stroke-width="1.35" stroke-linecap="round" fill="none"/>
<path d="M426.25 60.21L426.25 58.01M426.25 60.21L428.34 59.53M426.25 60.21L427.54 61.99M426.25 60.21L424.96 61.99M426.25 60.21L424.16 59.53" stroke="#000" stroke-width="1.35" stroke-linecap="round" fill="none"/>
<path d="M56.5 334.5V331.5H69.5V334.5Z" fill="url(#pC)" stroke="#1a1a1a" stroke-width="1.15"/>
<path d="M69.5 334.5V329.5H82.5V334.5" fill="#fff" stroke="#1a1a1a" stroke-width="1.15"/>
<rect x="60.0" y="330.0" width="5" height="2.0" fill="#1a1a1a"/>
<rect x="74.0" y="328.0" width="5" height="2.0" fill="#1a1a1a"/>
<path d="M103.5 334.5V280.5H116.5V334.5Z" fill="url(#pC)" stroke="#1a1a1a" stroke-width="1.15"/>
<path d="M116.5 334.5V230.5H129.5V334.5" fill="#fff" stroke="#1a1a1a" stroke-width="1.15"/>
<path d="M109.5 272.5V288.5M107.0 272.5H112.0M107.0 288.5H112.0" fill="none" stroke="#1a1a1a" stroke-width="1.15"/>
<path d="M123.5 214.5V246.5M121.0 214.5H126.0M121.0 246.5H126.0" fill="none" stroke="#1a1a1a" stroke-width="1.15"/>
<path d="M150.5 334.5V234.5H163.5V334.5Z" fill="url(#pC)" stroke="#1a1a1a" stroke-width="1.15"/>
<path d="M163.5 334.5V230.5H176.5V334.5" fill="#fff" stroke="#1a1a1a" stroke-width="1.15"/>
<path d="M156.5 219.5V249.5M154.0 219.5H159.0M154.0 249.5H159.0" fill="none" stroke="#1a1a1a" stroke-width="1.15"/>
<path d="M170.5 214.5V245.5M168.0 214.5H173.0M168.0 245.5H173.0" fill="none" stroke="#1a1a1a" stroke-width="1.15"/>
<path d="M209.5 334.5V313.5H222.5V334.5" fill="#fff" stroke="#1a1a1a" stroke-width="1.15"/>
<path d="M216.5 310.5V316.5M214.0 310.5H219.0M214.0 316.5H219.0" fill="none" stroke="#1a1a1a" stroke-width="1.15"/>
<text transform="translate(38.60,336.88) scale(0.930,1)" text-anchor="end" class="t N" style="font-size:8.6px">0</text>
<text transform="translate(38.60,316.13) scale(0.930,1)" text-anchor="end" class="t N" style="font-size:8.6px">20</text>
<text transform="translate(38.60,295.38) scale(0.930,1)" text-anchor="end" class="t N" style="font-size:8.6px">40</text>
<text transform="translate(38.60,274.63) scale(0.930,1)" text-anchor="end" class="t N" style="font-size:8.6px">60</text>
<text transform="translate(38.60,253.88) scale(0.930,1)" text-anchor="end" class="t N" style="font-size:8.6px">80</text>
<text transform="translate(38.60,233.13) scale(0.930,1)" text-anchor="end" class="t N" style="font-size:8.6px">100</text>
<text transform="translate(38.60,212.38) scale(0.930,1)" text-anchor="end" class="t N" style="font-size:8.6px">120</text>
<path d="M45.5 209.5V337.5M42.5 334.5H233.5M42.5 334.5H45.5M42.5 313.5H45.5M42.5 292.5H45.5M42.5 272.5H45.5M42.5 251.5H45.5M42.5 230.5H45.5M42.5 209.5H45.5M92.5 334.5V337.5M139.5 334.5V337.5M186.5 334.5V337.5M233.5 334.5V337.5" fill="none" stroke="#1a1a1a" stroke-width="1.15"/>
<text transform="translate(68.95,351.80) scale(1.060,1)" text-anchor="middle" class="t">Control</text>
<text transform="translate(115.85,351.80) scale(1.060,1)" text-anchor="middle" class="t">3C10</text>
<text transform="translate(162.75,351.80) scale(1.060,1)" text-anchor="middle" class="t">60bca</text>
<text transform="translate(209.65,351.80) scale(1.060,1)" text-anchor="middle" class="t">26ic</text>
<text transform="translate(68.95,362.90) scale(1.060,1)" text-anchor="middle" class="t">antibody</text>
<text x="227.10" y="212.50" text-anchor="middle" class="t L">C</text>
<text transform="translate(8.30,276.30) rotate(-90) scale(1.180,1)" text-anchor="middle" class="t Y">Percent inhibition of</text>
<text transform="translate(20.00,277.50) rotate(-90) scale(1.180,1)" text-anchor="middle" class="t Y">CD11b/CD18 up-regulation</text>
<rect x="57.00" y="210.00" width="4.50" height="4.50" fill="url(#pC)" stroke="#1a1a1a" stroke-width="1.2"/>
<rect x="57.00" y="220.80" width="4.50" height="4.50" fill="#fff" stroke="#1a1a1a" stroke-width="1.2"/>
<text transform="translate(64.50,214.70) scale(1.060,1)" class="t G">LP</text>
<text transform="translate(64.50,225.50) scale(1.060,1)" class="t G">LPS</text>
<text transform="translate(52.50,239.50) scale(1.000,1)" class="t G">(32 ng/ml)</text>
<path d="M110.00 262.71L110.00 260.51M110.00 262.71L112.09 262.03M110.00 262.71L111.29 264.49M110.00 262.71L108.71 264.49M110.00 262.71L107.91 262.03" stroke="#000" stroke-width="1.35" stroke-linecap="round" fill="none"/>
<path d="M201.90 322.46L201.90 320.26M201.90 322.46L203.99 321.78M201.90 322.46L203.19 324.24M201.90 322.46L200.61 324.24M201.90 322.46L199.81 321.78" stroke="#000" stroke-width="1.35" stroke-linecap="round" fill="none"/>
<path d="M307.5 332.5V327.5H323.5V332.5Z" fill="url(#pD)" stroke="#1a1a1a" stroke-width="1.15"/>
<path d="M323.5 332.5V327.5H338.5V332.5" fill="#fff" stroke="#1a1a1a" stroke-width="1.15"/>
<rect x="313.0" y="326.0" width="5" height="2.0" fill="#1a1a1a"/>
<rect x="328.0" y="327.0" width="5" height="2.0" fill="#1a1a1a"/>
<path d="M361.5 332.5V320.5H377.5V332.5Z" fill="url(#pD)" stroke="#1a1a1a" stroke-width="1.15"/>
<path d="M377.5 332.5V240.5H392.5V332.5" fill="#fff" stroke="#1a1a1a" stroke-width="1.15"/>
<path d="M369.5 318.5V322.5M367.0 318.5H372.0M367.0 322.5H372.0" fill="none" stroke="#1a1a1a" stroke-width="1.15"/>
<path d="M384.5 226.5V254.5M382.0 226.5H387.0M382.0 254.5H387.0" fill="none" stroke="#1a1a1a" stroke-width="1.15"/>
<path d="M416.5 332.5V262.5H432.5V332.5Z" fill="url(#pD)" stroke="#1a1a1a" stroke-width="1.15"/>
<path d="M432.5 332.5V228.5H447.5V332.5" fill="#fff" stroke="#1a1a1a" stroke-width="1.15"/>
<path d="M424.5 252.5V273.5M422.0 252.5H427.0M422.0 273.5H427.0" fill="none" stroke="#1a1a1a" stroke-width="1.15"/>
<path d="M440.5 212.5V243.5M438.0 212.5H443.0M438.0 243.5H443.0" fill="none" stroke="#1a1a1a" stroke-width="1.15"/>
<path d="M470.5 332.5V312.5H486.5V332.5Z" fill="url(#pD)" stroke="#1a1a1a" stroke-width="1.15"/>
<path d="M486.5 332.5V331.5H501.5V332.5" fill="#fff" stroke="#1a1a1a" stroke-width="1.15"/>
<path d="M478.5 308.5V315.5M476.0 308.5H481.0M476.0 315.5H481.0" fill="none" stroke="#1a1a1a" stroke-width="1.15"/>
<text transform="translate(287.80,335.02) scale(0.950,1)" text-anchor="end" class="t N" style="font-size:9.0px">0</text>
<text transform="translate(287.80,314.06) scale(0.950,1)" text-anchor="end" class="t N" style="font-size:9.0px">20</text>
<text transform="translate(287.80,293.09) scale(0.950,1)" text-anchor="end" class="t N" style="font-size:9.0px">40</text>
<text transform="translate(287.80,272.12) scale(0.950,1)" text-anchor="end" class="t N" style="font-size:9.0px">60</text>
<text transform="translate(287.80,251.16) scale(0.950,1)" text-anchor="end" class="t N" style="font-size:9.0px">80</text>
<text transform="translate(287.80,230.19) scale(0.950,1)" text-anchor="end" class="t N" style="font-size:9.0px">100</text>
<text transform="translate(287.80,209.22) scale(0.950,1)" text-anchor="end" class="t N" style="font-size:9.0px">120</text>
<path d="M296.5 206.5V335.5M293.5 332.5H512.5M293.5 332.5H296.5M293.5 311.5H296.5M293.5 290.5H296.5M293.5 269.5H296.5M293.5 248.5H296.5M293.5 227.5H296.5M293.5 206.5H296.5M350.5 332.5V335.5M404.5 332.5V335.5M458.5 332.5V335.5M512.5 332.5V335.5" fill="none" stroke="#1a1a1a" stroke-width="1.15"/>
<text transform="translate(323.30,350.20) scale(1.060,1)" text-anchor="middle" class="t">Control</text>
<text transform="translate(377.50,350.20) scale(1.060,1)" text-anchor="middle" class="t">3C10</text>
<text transform="translate(431.70,350.20) scale(1.060,1)" text-anchor="middle" class="t">60bca</text>
<text transform="translate(485.90,350.20) scale(1.060,1)" text-anchor="middle" class="t">26ic</text>
<text transform="translate(323.30,361.90) scale(1.060,1)" text-anchor="middle" class="t">antibody</text>
<text x="512.25" y="212.00" text-anchor="middle" class="t L">D</text>
<text transform="translate(254.00,268.80) rotate(-90) scale(1.180,1)" text-anchor="middle" class="t Y">Percent inhibition of</text>
<text transform="translate(266.00,269.30) rotate(-90) scale(1.180,1)" text-anchor="middle" class="t Y">CD11b/CD18 up-regulation</text>
<rect x="303.00" y="213.50" width="5.00" height="5.00" fill="url(#pD)" stroke="#1a1a1a" stroke-width="1.2"/>
<rect x="303.00" y="222.00" width="5.00" height="5.00" fill="#fff" stroke="#1a1a1a" stroke-width="1.2"/>
<text transform="translate(311.20,218.70) scale(1.060,1)" class="t G">LP</text>
<text transform="translate(311.20,227.20) scale(1.060,1)" class="t G">LPS</text>
<text transform="translate(301.30,239.50) scale(1.000,1)" class="t G">(128 ng/ml)</text>
<path d="M370.25 308.21L370.25 306.01M370.25 308.21L372.34 307.53M370.25 308.21L371.54 309.99M370.25 308.21L368.96 309.99M370.25 308.21L368.16 307.53" stroke="#000" stroke-width="1.35" stroke-linecap="round" fill="none"/>
<path d="M424.60 242.71L424.60 240.51M424.60 242.71L426.69 242.03M424.60 242.71L425.89 244.49M424.60 242.71L423.31 244.49M424.60 242.71L422.51 242.03" stroke="#000" stroke-width="1.35" stroke-linecap="round" fill="none"/>
<path d="M479.10 295.31L479.10 293.11M479.10 295.31L481.19 294.63M479.10 295.31L480.39 297.09M479.10 295.31L477.81 297.09M479.10 295.31L477.01 294.63" stroke="#000" stroke-width="1.35" stroke-linecap="round" fill="none"/>
</svg>
</body></html>
